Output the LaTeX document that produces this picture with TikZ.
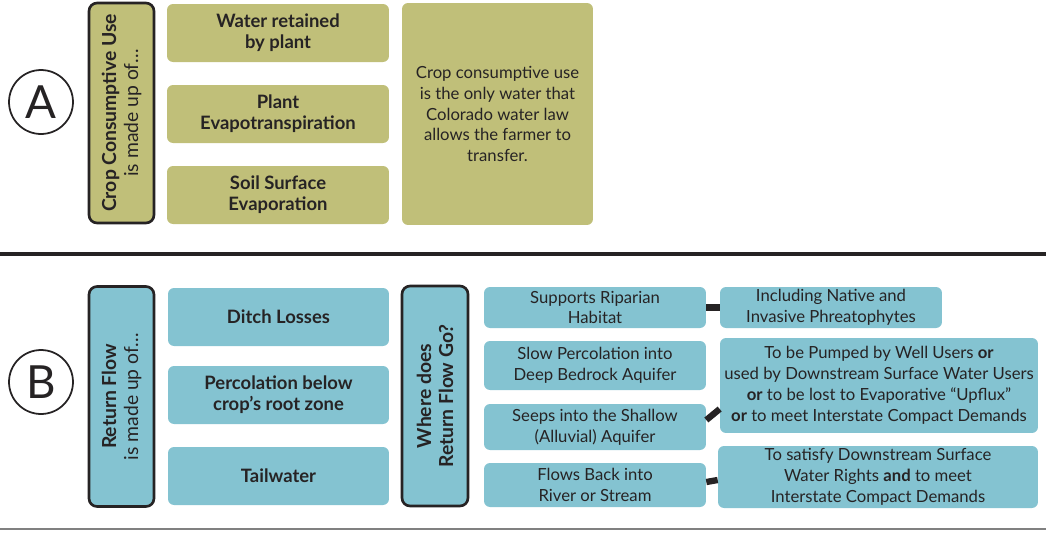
\documentclass[tikz,border=0pt]{standalone}
\usepackage{fontspec}
\setmainfont{Lato}
\usepackage{xcolor}
\usepackage{tikz}
\definecolor{cropolive}{HTML}{C0BF79}
\definecolor{flowblue}{HTML}{84C3D1}
\definecolor{ink}{HTML}{262324}

\begin{document}
\begin{tikzpicture}[x=0.02cm, y=-0.02cm, text=ink,
  tile/.style={rounded corners=0.12cm, align=center, inner sep=0pt},
  cropbox/.style={tile, fill=cropolive, minimum width=4.44cm, minimum height=1.16cm, font=\fontsize{10.5}{12}\selectfont\bfseries},
  flowbox/.style={tile, fill=flowblue, minimum width=4.42cm, minimum height=1.16cm, font=\fontsize{10.5}{12}\selectfont\bfseries},
  wherebox/.style={tile, fill=flowblue, font=\fontsize{9.5}{11.9}\selectfont},
  sidebox/.style={draw=ink, line width=1.5pt, rounded corners=0.16cm, rotate=90, align=center, minimum width=4.4cm, minimum height=1.3cm, inner sep=0pt, font=\fontsize{11}{12.5}\selectfont},
  letter/.style={circle, draw=ink, line width=1pt, minimum size=1.28cm, inner sep=0pt, font=\fontsize{26}{26}\selectfont},
  link/.style={draw=ink, line width=3.6pt}]
\useasboundingbox (0,0) rectangle (1046,532);

% part A
\node[letter] (partA) at (41,102) {A};
\node[sidebox, fill=cropolive] (cropuse) at (121.5,113) {\textbf{Crop Consumptive Use}\\is made up of…};
\node[cropbox] (retained) at (278,33) {Water retained\\by plant};
\node[cropbox] (evapo) at (278,114) {Plant\\Evapotranspiration};
\node[cropbox] (soil) at (278,195) {Soil Surface\\Evaporation};
\node[tile, fill=cropolive, minimum width=3.82cm, minimum height=4.44cm, font=\fontsize{9.5}{11.9}\selectfont] (law) at (497.5,114)
  {Crop consumptive use\\is the only water that\\Colorado water law\\allows the farmer to\\transfer.};

\draw[ink, line width=2.8pt] (0,254) -- (1046,254);

% part B
\node[letter] (partB) at (41,382) {B};
\node[sidebox, fill=flowblue] (returnflow) at (121.5,396.5) {\textbf{Return Flow}\\is made up of…};
\node[flowbox] (ditch) at (278.5,317) {Ditch Losses};
\node[flowbox] (perc) at (278.5,395) {Percolation below\\crop’s root zone};
\node[flowbox] (tail) at (278.5,476) {Tailwater};
\node[sidebox, fill=flowblue, minimum height=1.32cm, font=\fontsize{11}{12.5}\selectfont\bfseries] (wheredoes) at (435,396) {Where does\\Return Flow Go?};

\node[wherebox, minimum width=4.44cm, minimum height=0.82cm] (riparian) at (595,307.5) {Supports Riparian\\Habitat};
\node[wherebox, minimum width=4.44cm, minimum height=0.98cm] (bedrock) at (595,365.5) {Slow Percolation into\\Deep Bedrock Aquifer};
\node[wherebox, minimum width=4.44cm, minimum height=0.92cm] (shallow) at (595,427) {Seeps into the Shallow\\(Alluvial) Aquifer};
\node[wherebox, minimum width=4.44cm, minimum height=0.88cm] (river) at (595,485) {Flows Back into\\River or Stream};

\node[wherebox, minimum width=4.44cm, minimum height=0.82cm] (phreato) at (831,307.5) {Including Native and\\Invasive Phreatophytes};
\node[wherebox, minimum width=6.36cm, minimum height=1.9cm] (pumped) at (879,385.5)
  {To be Pumped by Well Users \textbf{or}\\used by Downstream Surface Water Users\\\textbf{or} to be lost to Evaporative “Upflux”\\\textbf{or} to meet Interstate Compact Demands};
\node[wherebox, minimum width=6.4cm, minimum height=1.24cm] (rights) at (878,477)
  {To satisfy Downstream Surface\\Water Rights \textbf{and} to meet\\Interstate Compact Demands};

\draw[link] (riparian.east) -- (phreato.west);
\draw[link] ([yshift=0.14cm]shallow.east) -- ([yshift=-0.47cm]pumped.west);
\draw[link] ([yshift=0.06cm]river.east) -- ([yshift=-0.06cm]rights.west);

\draw[gray, line width=0.8pt] (0,529) -- (1046,529);
\end{tikzpicture}
\end{document}
